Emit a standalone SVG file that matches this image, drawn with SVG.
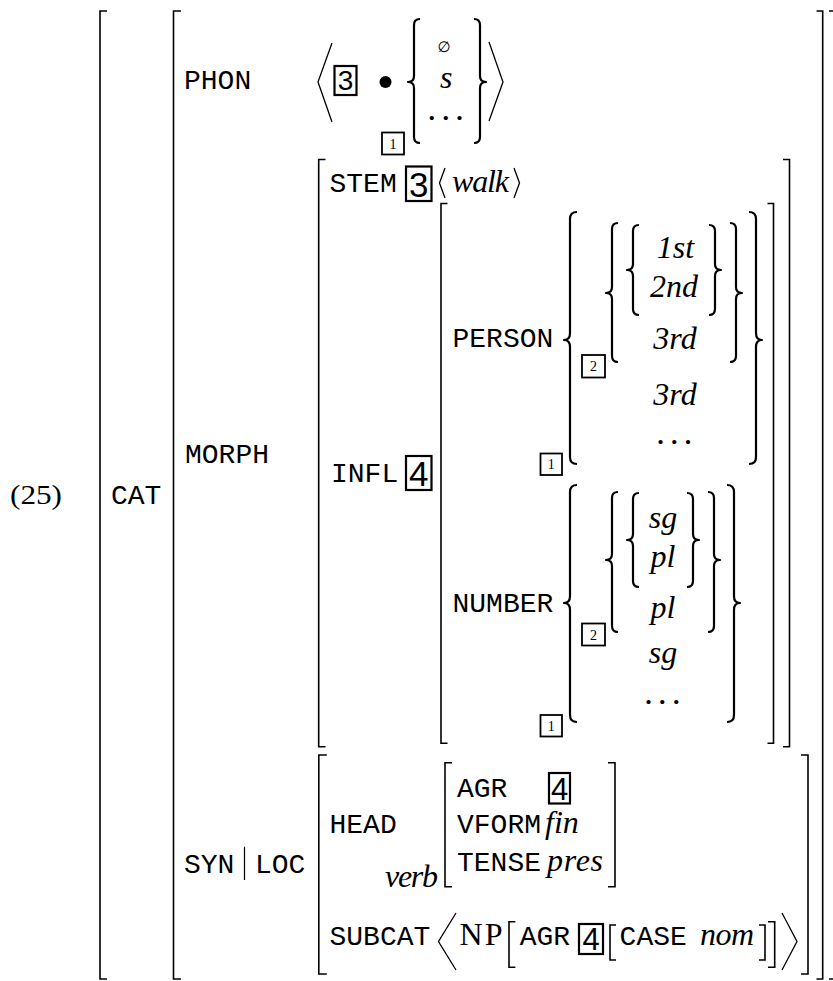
<svg xmlns="http://www.w3.org/2000/svg" width="833" height="981" viewBox="0 0 833 981">
<style>
.tt{font-family:"Liberation Mono",monospace;font-size:28px;fill:#000}
.mi{font-family:"Liberation Serif",serif;font-style:italic;font-size:32px;fill:#000}
.rm{font-family:"Liberation Serif",serif;font-size:32px;fill:#000}
.dots{font-family:"Liberation Serif",serif;font-size:26px;font-weight:bold;fill:#000;letter-spacing:7.3px}
.c{text-anchor:middle}
.br{fill:none;stroke:#000;stroke-width:1.6}
.bc{fill:none;stroke:#000;stroke-width:2.2;stroke-linejoin:round}
.ang{fill:none;stroke:#000;stroke-width:1.3}
.box{fill:none;stroke:#000;stroke-width:2.2}
.sbox{fill:none;stroke:#000;stroke-width:1.8}
.bd{font-family:"Liberation Sans",sans-serif;text-anchor:middle;fill:#000}
.sd{font-family:"Liberation Serif",serif;font-size:14px;text-anchor:middle;fill:#000}
</style>
<rect width="833" height="981" fill="#fff"/>

<!-- example number -->
<text x="10" y="504" font-family="Liberation Serif, serif" font-size="28" textLength="52" lengthAdjust="spacingAndGlyphs">(25)</text>

<!-- square brackets -->
<g id="brackets">
<path class="br" d="M107,11 H100 V979 H107"/>
<path class="br" d="M181,11 H173.5 V979 H181"/>
<path class="br" d="M816.5,11 H822.7 V979 H816.5"/>
<path class="br" d="M829,11 H840 V979 H829"/>
<path class="br" d="M325.5,159.5 H318.7 V746.7 H325.5"/>
<path class="br" d="M783,159.5 H789.5 V746.7 H783"/>
<path class="br" d="M447.5,203.5 H441 V743.3 H447.5"/>
<path class="br" d="M767.5,203.5 H773.5 V743.3 H767.5"/>
<path class="br" d="M326.8,755 H318.8 V974 H326.8"/>
<path class="br" d="M801,755 H808 V974 H801"/>
<path class="br" d="M452,762.7 H445 V886.7 H452"/>
<path class="br" d="M608,762.7 H615 V886.7 H608"/>
<path class="br" d="M515.4,921.7 H509 V967.3 H515.4"/>
<path class="br" d="M768,921.7 H774.7 V967.3 H768"/>
<path class="br" d="M616,925 H610 V960 H616"/>
<path class="br" d="M759,925 H765 V960 H759"/>
</g>

<!-- curly braces -->
<g id="braces">
<path class="bc" d="M420,19 Q414,19 414,25 L414,76 Q414,82 408,82 Q414,82 414,88 L414,137 Q414,143 420,143"/>
<path class="bc" d="M474,19 Q480,19 480,25 L480,76 Q480,82 486,82 Q480,82 480,88 L480,137 Q480,143 474,143"/>
<path class="bc" d="M577,212 Q570,212 570,219 L570,333 Q570,340 564,340 Q570,340 570,347 L570,457 Q570,464 577,464"/>
<path class="bc" d="M749,212 Q756,212 756,219 L756,333 Q756,340 762,340 Q756,340 756,347 L756,457 Q756,464 749,464"/>
<path class="bc" d="M618,223 Q612,223 612,229 L612,287 Q612,293 606,293 Q612,293 612,299 L612,356 Q612,362 618,362"/>
<path class="bc" d="M730,223 Q736,223 736,229 L736,287 Q736,293 742,293 Q736,293 736,299 L736,356 Q736,362 730,362"/>
<path class="bc" d="M639,225 Q633,225 633,231 L633,264 Q633,270 627,270 Q633,270 633,276 L633,309 Q633,315 639,315"/>
<path class="bc" d="M709,225 Q715,225 715,231 L715,264 Q715,270 721,270 Q715,270 715,276 L715,309 Q715,315 709,315"/>
<path class="bc" d="M577,485 Q570,485 570,492 L570,596 Q570,603 564,603 Q570,603 570,610 L570,715 Q570,722 577,722"/>
<path class="bc" d="M727,485 Q734,485 734,492 L734,596 Q734,603 740,603 Q734,603 734,610 L734,715 Q734,722 727,722"/>
<path class="bc" d="M618,492 Q612,492 612,498 L612,554 Q612,560 606,560 Q612,560 612,566 L612,626 Q612,632 618,632"/>
<path class="bc" d="M708,492 Q714,492 714,498 L714,554 Q714,560 720,560 Q714,560 714,566 L714,626 Q714,632 708,632"/>
<path class="bc" d="M639,493 Q633,493 633,499 L633,534 Q633,540 627,540 Q633,540 633,546 L633,581 Q633,587 639,587"/>
<path class="bc" d="M687,493 Q693,493 693,499 L693,534 Q693,540 699,540 Q693,540 693,546 L693,581 Q693,587 687,587"/>
</g>

<!-- angle brackets -->
<g id="angles">
<path class="ang" d="M332,43 L318,82 L332,122"/>
<path class="ang" d="M489,42 L503,82 L489,121"/>
<path class="ang" d="M445,168 L439.5,183 L445,198"/>
<path class="ang" d="M514,168 L519.5,183 L514,198"/>
<path class="ang" d="M456,913 L438.5,941.5 L456,970"/>
<path class="ang" d="M782,913 L797,941.5 L782,970"/>
</g>

<!-- tags -->
<g id="tags">
<rect class="box" x="334.5" y="66" width="22" height="29"/>
<text class="bd" x="345.5" y="90" font-size="28">3</text>
<rect class="box" x="406" y="166.5" width="25.5" height="34.5"/>
<text class="bd" x="418.8" y="196.5" font-size="35">3</text>
<rect class="box" x="406" y="456" width="25.5" height="34"/>
<text class="bd" x="418.8" y="485.8" font-size="35">4</text>
<rect class="box" x="549" y="773" width="21" height="30.5"/>
<text class="bd" x="559.5" y="799.5" font-size="31">4</text>
<rect class="box" x="579" y="924" width="24" height="30"/>
<text class="bd" x="591" y="950" font-size="31">4</text>
<rect class="sbox" x="382" y="132.5" width="22" height="22"/>
<text class="sd" x="393" y="148.5">1</text>
<rect class="sbox" x="582" y="355" width="23" height="22.5"/>
<text class="sd" x="593.5" y="371">2</text>
<rect class="sbox" x="540.5" y="453.5" width="21.5" height="21.5"/>
<text class="sd" x="551.2" y="469.3">1</text>
<rect class="sbox" x="582" y="623.5" width="23" height="22"/>
<text class="sd" x="593.5" y="639.5">2</text>
<rect class="sbox" x="540.5" y="715" width="21.5" height="21.5"/>
<text class="sd" x="551.2" y="730.8">1</text>
</g>

<circle cx="385.5" cy="82" r="6" fill="#000"/>
<line x1="244.5" y1="846.7" x2="244.5" y2="880" stroke="#000" stroke-width="1.2"/>

<!-- feature names -->
<g id="features">
<text class="tt" x="111" y="504">CAT</text>
<text class="tt" x="184" y="89">PHON</text>
<text class="tt" x="185" y="463">MORPH</text>
<text class="tt" x="184" y="872.7">SYN</text>
<text class="tt" x="255" y="872.7">LOC</text>
<text class="tt" x="329.5" y="191.7">STEM</text>
<text class="tt" x="331" y="481.7">INFL</text>
<text class="tt" x="452.5" y="346.7">PERSON</text>
<text class="tt" x="452.5" y="611.7">NUMBER</text>
<text class="tt" x="329.5" y="832.7">HEAD</text>
<text class="tt" x="457" y="797">AGR</text>
<text class="tt" x="457" y="833">VFORM</text>
<text class="tt" x="457" y="871">TENSE</text>
<text class="tt" x="329.5" y="945">SUBCAT</text>
<text class="tt" x="519.7" y="945">AGR</text>
<text class="tt" x="619.6" y="945">CASE</text>
</g>

<!-- values -->
<g id="values">
<text x="444" y="52" font-family="DejaVu Sans, sans-serif" font-size="15" text-anchor="middle">∅</text>
<text class="mi" x="440" y="88">s</text>
<text class="dots" x="428.6" y="120">...</text>
<text class="mi" x="452" y="191.7" textLength="57">walk</text>
<text class="mi c" x="675.5" y="258.3">1st</text>
<text class="mi c" x="674" y="296.7">2nd</text>
<text class="mi c" x="675" y="349.3">3rd</text>
<text class="mi c" x="675" y="405">3rd</text>
<text class="dots" x="657.2" y="444">...</text>
<text class="mi c" x="663" y="528.3">sg</text>
<text class="mi c" x="663" y="566.7">pl</text>
<text class="mi c" x="663" y="618.3">pl</text>
<text class="mi c" x="663" y="663.3">sg</text>
<text class="dots" x="645.3" y="703.5">...</text>
<text class="mi" x="545" y="833">fin</text>
<text class="mi" x="547" y="871" textLength="56">pres</text>
<text class="mi" x="385" y="886.7" textLength="53">verb</text>
<text class="rm" x="459.5" y="945" textLength="43">NP</text>
<text class="mi" x="700" y="945" textLength="54">nom</text>
</g>
</svg>
